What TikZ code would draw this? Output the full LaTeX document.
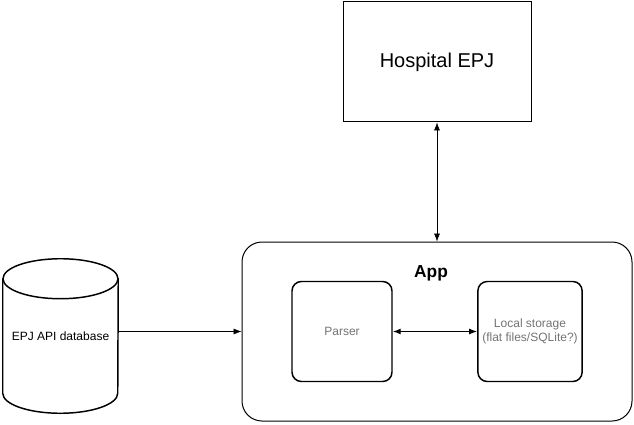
\documentclass[tikz,border=0pt]{standalone}
\usepackage{fontspec}
\setmainfont{Liberation Sans}
\usetikzlibrary{positioning,arrows.meta}
\definecolor{textgray}{RGB}{115,115,115}

\begin{document}
\begin{tikzpicture}[x=0.75pt,y=-0.75pt,>={Latex[length=6pt,width=4.5pt]}]
\useasboundingbox (0,0) rectangle (634,424);
\node[draw,line width=0.75pt,minimum width=141pt,minimum height=90pt,font=\fontsize{15}{18}\selectfont] (hosp) at (437,62) {Hospital EPJ};
\node[draw,rounded corners=15pt,line width=0.75pt,minimum width=292.5pt,minimum height=134.25pt] (app) at (437,331.5) {};
\node[font=\bfseries\fontsize{13}{15}\selectfont] (applabel) at (431,273) {App};
\node[draw,rounded corners=7pt,line width=1.1pt,minimum width=75pt,minimum height=75pt,text=textgray,font=\fontsize{9}{11}\selectfont] (parser) at (342,331.5) {Parser};
\node[draw,rounded corners=7pt,line width=1.1pt,minimum width=75pt,minimum height=75pt,text=textgray,align=center,font=\fontsize{9}{11}\selectfont] (storage) at (530,331.5) {Local storage\\(flat files/SQLite?)};
% database cylinder
\node[minimum width=86.25pt,minimum height=115.5pt,inner sep=0pt,font=\fontsize{9}{11}\selectfont] (db) at (60.5,336) {EPJ API database};
\draw[line width=1.1pt] ([yshift=-15pt]db.north west) -- ([yshift=15pt]db.south west)
  arc[start angle=180,end angle=360,x radius=43.125pt,y radius=15pt] -- ([yshift=-15pt]db.north east);
\draw[line width=1.1pt] ([yshift=-15pt]db.north) ellipse[x radius=43.125pt,y radius=15pt];
\draw[<->] (hosp.south) -- (app.north);
\draw[->] (db.east |- app.west) -- (app.west);
\draw[<->,line width=0.9pt] (parser) -- (storage);
\end{tikzpicture}
\end{document}
